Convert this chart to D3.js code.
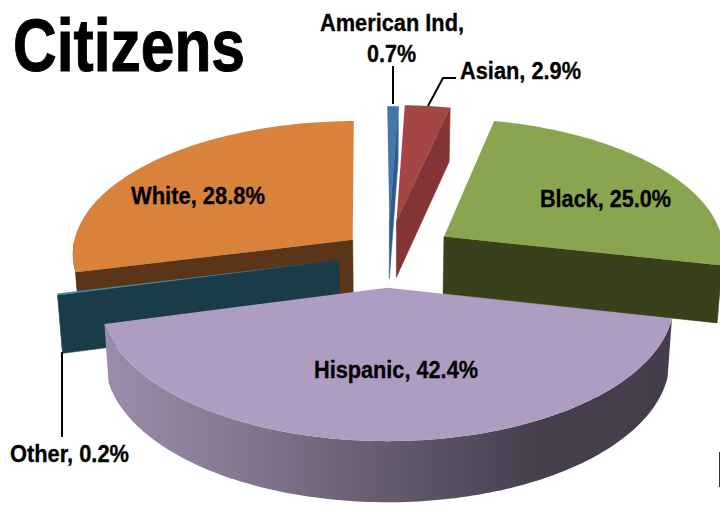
<!DOCTYPE html>
<html>
<head>
<meta charset="utf-8">
<script src="https://cdn.jsdelivr.net/npm/d3@7/dist/d3.min.js"></script>
<style>
html,body{margin:0;padding:0;background:#fff;overflow:hidden}
svg{display:block}
text{font-family:"Liberation Sans",Arial,sans-serif;font-weight:700;fill:#000;stroke:#000;stroke-width:.3}
</style>
</head>
<body>
<svg id="c" width="720" height="505"></svg>
<script>
const title = "Citizens";
const categories = ["American Ind", "Asian", "Black", "Hispanic", "Other", "White"];
const shares = [0.7, 2.9, 25.0, 42.4, 0.2, 28.8];
const topColors = ["#4475AB", "#A64644", "#8AA550", "#AF9CC3", "#3F8FA5", "#D9823B"];
const faceColors = ["#2F5C8F", "#843434", "#38411C", "#6A5F75", "#1A3C48", "#5A3517"];

// how far each slice is pulled out of the pie, in pie radii on the ground plane
const pullU = [0.016, 0.042, 0.2125, 0.008, -0.163, -0.116];
const pullV = [-0.489, -0.499, -0.375, 0.005, -0.197, -0.35];
const radiusScale = [1, 1, 1, 0.99, 1, 1];

const X0 = 385, Y0 = 287, R = 288, K = 139.5, P = 0.1, DEPTH = 58, TAPER = 0.985, ROTATION = -0.4;
const svg = d3.select("#c");
const defs = svg.append("defs");

const project = (U, V, z) => {
  const s = 1 / (1 - P * V);
  const t = z ? TAPER : 1;
  return [X0 + U * R * s * t, Y0 + K * V * s + (z ? DEPTH * Math.sqrt(s) : 0)];
};

const rot = ROTATION * Math.PI / 180;
const slices = d3.pie().sort(null).value(d => d).startAngle(rot)
  .endAngle(2 * Math.PI + rot)(shares)
  .map((d, i) => ({...d, i}));

const line = d3.line();
const rim = (d, a, z) => project(pullU[d.i] + radiusScale[d.i] * Math.sin(a), pullV[d.i] - radiusScale[d.i] * Math.cos(a), z);
const apex = (d, z) => project(pullU[d.i], pullV[d.i], z);
const arcAngles = (a0, a1) => {
  const n = Math.max(2, Math.ceil(Math.abs(a1 - a0) / 0.02));
  return d3.range(n + 1).map(k => a0 + (a1 - a0) * k / n);
};

const grad = defs.append("linearGradient").attr("id", "wall")
  .attr("gradientUnits", "userSpaceOnUse")
  .attr("x1", 105).attr("x2", 670).attr("y1", 0).attr("y2", 0);
[[0, "#9C8CAC"], [0.24, "#85778F"], [0.5, "#655A70"], [0.78, "#453E4C"], [1, "#443D4B"]]
  .forEach(([o, c]) => grad.append("stop").attr("offset", o).attr("stop-color", c));

function drawWall(g, d, a0, a1, fill) {
  if (a1 <= a0) return;
  const as = arcAngles(a0, a1);
  const pts = as.map(a => rim(d, a, false)).concat(as.slice().reverse().map(a => rim(d, a, true)));
  g.append("path").attr("d", line(pts) + "Z").attr("fill", fill);
}
function drawRadial(g, d, a, fill) {
  const pts = [apex(d, false), rim(d, a, false), rim(d, a, true), apex(d, true)];
  g.append("path").attr("d", line(pts) + "Z").attr("fill", fill).attr("stroke", fill).attr("stroke-width", 0.6);
}
function drawTop(g, d) {
  const pts = [apex(d, false)].concat(arcAngles(d.startAngle, d.endAngle).map(a => rim(d, a, false)));
  g.append("path").attr("d", line(pts) + "Z").attr("fill", topColors[d.i]);
}

const HALF = Math.PI / 2, FULL = 3 * Math.PI / 2;
const g = svg.append("g");
// back to front
const order = [5, 4, 3, 2, 1, 0];
order.forEach(i => {
  const d = slices[i], sg = g.append("g").attr("class", "slice-" + categories[i].replace(/\s/g, ""));
  if (categories[i] === "Hispanic") {
    drawWall(sg, d, d.startAngle, d.endAngle, "url(#wall)");
    drawTop(sg, d);
  } else if (categories[i] === "White" || categories[i] === "Other") {
    drawWall(sg, d, d.startAngle, Math.min(d.endAngle, FULL), faceColors[i]);
    drawRadial(sg, d, d.startAngle, faceColors[i]);
    drawTop(sg, d);
  } else {
    drawWall(sg, d, Math.max(d.startAngle, HALF), d.endAngle, faceColors[i]);
    drawRadial(sg, d, d.endAngle, faceColors[i]);
    drawTop(sg, d);
  }
});

// leader lines
const leaders = [
  [[393, 66], [393, 104]],
  [[456, 78], [443, 78], [428, 106]],
  [[62, 352], [62, 437]]
];
svg.append("g").selectAll("path").data(leaders).join("path")
  .attr("d", d => line(d)).attr("fill", "none").attr("stroke", "#000").attr("stroke-width", 2);

// stray edge at the right of the frame
svg.append("line").attr("x1", 719.5).attr("x2", 719.5).attr("y1", 452).attr("y2", 487)
  .attr("stroke", "#333").attr("stroke-width", 1);

// labels
const labelText = (i) => `${categories[i]}, ${shares[i].toFixed(1)}%`;
const labels = [
  {t: `${categories[0]},`, x: 320, y: 31, w: 144},
  {t: `${shares[0].toFixed(1)}%`, x: 367, y: 62, w: 49},
  {t: labelText(1), x: 460, y: 79, w: 121},
  {t: labelText(2), x: 540, y: 207, w: 131},
  {t: labelText(3), x: 314, y: 378, w: 164},
  {t: labelText(4), x: 10, y: 462, w: 119},
  {t: labelText(5), x: 131, y: 204, w: 134}
];
svg.append("g").selectAll("text").data(labels).join("text")
  .attr("x", d => d.x).attr("y", d => d.y).attr("font-size", 23)
  .attr("textLength", d => d.w).attr("lengthAdjust", "spacingAndGlyphs")
  .text(d => d.t);

svg.append("text").attr("x", 13).attr("y", 71).attr("font-size", 74).style("stroke-width", 1)
  .attr("textLength", 232).attr("lengthAdjust", "spacingAndGlyphs").text(title);
</script>
</body>
</html>
